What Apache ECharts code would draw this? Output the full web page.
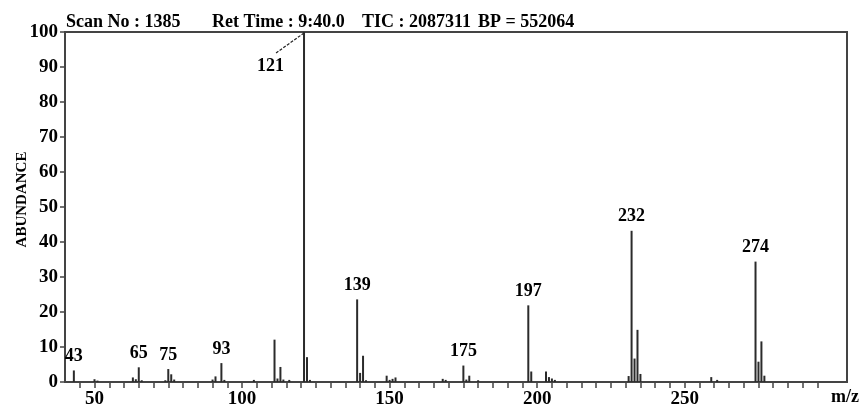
<!DOCTYPE html>
<html>
<head>
<meta charset="utf-8">
<title>Mass spectrum – Scan 1385</title>
<script src="https://cdn.jsdelivr.net/npm/echarts@6/dist/echarts.min.js"></script>
<style>
  html, body { margin: 0; padding: 0; background: #fff; }
  #chart { width: 863px; height: 409px; }
</style>
</head>
<body>
<div id="chart"></div>
<script>
// Mass-to-charge values of the detected ions and their relative abundance (%)
const mzValues = [
  43, 50, 51, 63, 64, 65, 66, 74, 75, 76, 77, 90, 91, 93, 94, 104,
  111, 112, 113, 114, 116, 121, 122, 123,
  139, 140, 141, 142, 149, 150, 151, 152, 168, 169, 175, 176, 177, 180,
  197, 198, 203, 204, 205, 206,
  231, 232, 233, 234, 235, 259, 261,
  274, 275, 276, 277
];
const abundance = [
  3.3, 0.8, 0.4, 1.3, 0.8, 4.2, 0.5, 0.5, 3.7, 2.2, 0.7, 0.7, 1.6, 5.4, 0.6, 0.6,
  12.1, 1.0, 4.3, 0.7, 0.6, 100, 7.1, 0.6,
  23.6, 2.6, 7.5, 0.5, 1.8, 0.6, 0.9, 1.3, 0.9, 0.6, 4.7, 0.7, 1.8, 0.5,
  21.9, 3.0, 3.0, 1.4, 1.0, 0.6,
  1.7, 43.2, 6.7, 14.9, 2.3, 1.4, 0.6,
  34.4, 5.8, 11.6, 1.8
];

// Peaks annotated with their m/z value; the base peak gets a leader line
const labelledPeaks = [43, 65, 75, 93, 139, 175, 197, 232, 274];
const basePeak = 121;

// Axis ticks and labels
const xTickValues = [45, 50, 55, 60, 65, 70, 75, 80, 85, 90, 95, 100, 105, 110, 115,
  120, 125, 130, 135, 140, 145, 150, 155, 160, 165, 170, 175, 180, 185, 190, 195,
  200, 205, 210, 215, 220, 225, 230, 235, 240, 245, 250, 255, 260, 265, 270, 275,
  280, 285, 290, 295];
const xLabelValues = [50, 100, 150, 200, 250];
const yTickLabels = [0, 10, 20, 30, 40, 50, 60, 70, 80, 90, 100];

// Header line
const headerParts = ['Scan No : 1385', 'Ret Time : 9:40.0', 'TIC : 2087311', 'BP = 552064'];
const headerX = [66, 212, 362, 478];

const SERIF = "'Liberation Serif', 'Times New Roman', serif";
const INK = '#2b2b2b';

const chart = echarts.init(document.getElementById('chart'));

const barData = mzValues.map((mz, i) => {
  const item = { value: [mz, abundance[i]] };
  if (labelledPeaks.includes(mz)) {
    item.label = { show: true, position: 'top', distance: 5 };
  } else if (mz === basePeak) {
    item.label = { show: true, position: [-46, 25] };
  }
  return item;
});

const boldText = (text, size) => ({
  text, fill: '#000', fontFamily: SERIF, fontWeight: 'bold', fontSize: size
});

chart.setOption({
  animation: false,
  backgroundColor: '#fff',
  grid: {
    left: 65, right: 16, top: 32, bottom: 27,
    containLabel: false,
    outerBoundsMode: 'none',
    show: true, borderColor: '#444', borderWidth: 2
  },
  xAxis: {
    type: 'value',
    min: 40,
    max: 305,
    axisLine: { show: true, onZero: false, lineStyle: { color: '#444', width: 2 } },
    axisTick: {
      show: true, inside: false, length: 6,
      customValues: xTickValues,
      lineStyle: { color: '#444', width: 1.5 }
    },
    axisLabel: {
      customValues: xLabelValues,
      margin: 8,
      color: '#000', fontFamily: SERIF, fontWeight: 'bold', fontSize: 19
    },
    splitLine: { show: false }
  },
  yAxis: {
    type: 'value',
    min: 0,
    max: 100,
    interval: 10,
    name: 'ABUNDANCE',
    nameLocation: 'middle',
    nameRotate: 90,
    nameGap: 35,
    nameMoveOverlap: false,
    nameTextStyle: {
      color: '#000', fontFamily: SERIF, fontWeight: 'bold', fontSize: 15,
      padding: [0, 0, 0, 15]
    },
    axisLine: { show: true, lineStyle: { color: '#444', width: 2 } },
    axisTick: { show: true, inside: false, length: 5, lineStyle: { color: '#444', width: 1.5 } },
    axisLabel: {
      margin: 7,
      color: '#000', fontFamily: SERIF, fontWeight: 'bold', fontSize: 19,
      formatter: v => (yTickLabels.includes(v) ? String(v) : '')
    },
    splitLine: { show: false }
  },
  series: [{
    type: 'bar',
    barWidth: 2,
    itemStyle: { color: INK },
    label: {
      show: false,
      color: '#000', fontFamily: SERIF, fontWeight: 'bold', fontSize: 18,
      formatter: p => String(p.value[0])
    },
    data: barData
  }]
});

// Header texts, axis unit and the leader line from the base peak to its label
const tip = chart.convertToPixel({ gridIndex: 0 }, [basePeak, 100]);
const graphics = headerParts.map((t, i) => ({
  type: 'text', x: headerX[i], y: 13, style: boldText(t, 18)
}));
graphics.push({ type: 'text', x: 831, y: 388, style: boldText('m/z', 18) });
graphics.push({
  type: 'line',
  shape: { x1: tip[0], y1: tip[1] + 1, x2: tip[0] - 28, y2: tip[1] + 21 },
  style: { stroke: '#222', lineWidth: 1.2, lineDash: [3, 1.5] },
  silent: true
});
chart.setOption({ graphic: graphics });
</script>
</body>
</html>
